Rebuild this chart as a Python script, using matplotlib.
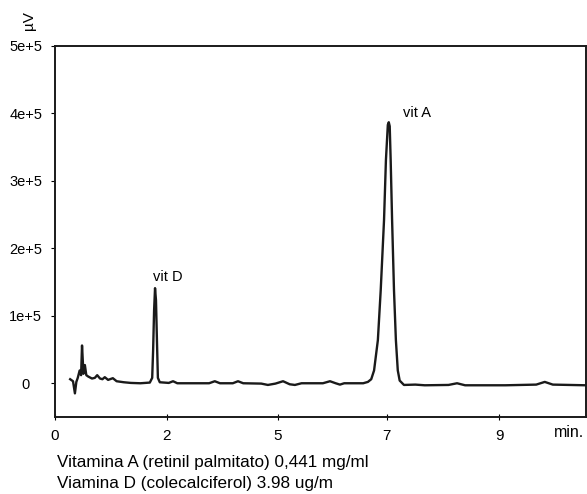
import matplotlib
matplotlib.use("Agg")
import matplotlib.pyplot as plt

plt.rcParams['font.family'] = ['Liberation Sans', 'DejaVu Sans']

# ---- trace (time in min, signal in uV) ----
t_min = [0.32, 0.38, 0.42, 0.45, 0.48, 0.52, 0.55, 0.57, 0.60, 0.63, 0.66, 0.70,
         0.78, 0.84, 0.89, 0.95, 1.00, 1.05, 1.12, 1.22, 1.30, 1.45, 1.60, 1.80,
         2.00, 2.05, 2.07, 2.09, 2.11, 2.13, 2.15, 2.17, 2.21, 2.40, 2.49, 2.58,
         3.25, 3.37, 3.48, 3.75, 3.86, 3.97, 4.35, 4.49, 4.65, 4.81, 4.95, 5.06,
         5.20, 5.65, 5.80, 5.92, 6.01, 6.10, 6.50, 6.60, 6.67, 6.73, 6.81, 6.87,
         6.94, 6.98, 7.02, 7.04, 7.06, 7.08, 7.11, 7.15, 7.19, 7.23, 7.27, 7.36,
         7.60, 7.80, 8.30, 8.48, 8.65, 9.50, 10.15, 10.33, 10.50, 11.20]
signal = [6000, 3000, -15000, 2000, 8000, 19000, 12000, 56000, 14000, 27000, 12000, 10000,
          7000, 8000, 12000, 7000, 6000, 9000, 5000, 7500, 3000, 1500, 500, 0,
          1000, 8000, 50000, 108000, 141000, 123000, 64000, 8000, 1500, 500, 3000, 0,
          0, 3000, 0, 0, 3000, 0, -500, -2500, -500, 3000, -1500, -2500,
          0, 0, 3000, 0, -2000, 0, 0, 2000, 6000, 19000, 64000, 138000,
          242000, 331000, 383000, 387000, 381000, 331000, 242000, 138000, 64000, 19000, 4000, -2500,
          -2000, -3000, -2500, 0, -3000, -3000, -2000, 2000, -2000, -3000]

y_ticks = [0, 100000, 200000, 300000, 400000, 500000]
y_labels = ['0', '1e+5', '2e+5', '3e+5', '4e+5', '5e+5']
x_ticks = [0, 2.36, 4.70, 7.0, 9.37]
x_labels = ['0', '2', '5', '7', '9']

peak_names = ['vit D', 'vit A']
peak_label_pos = [(2.07, 157000), (7.34, 400000)]

fig = plt.figure(figsize=(5.87, 4.94), dpi=100)
ax = fig.add_axes([0.0937, 0.1559, 0.9046, 0.751])

ax.plot(t_min, signal, color='#1a1a1a', lw=1.7)

ax.set_xlim(0, 11.2)
ax.set_ylim(-50000, 500000)
ax.set_yticks(y_ticks)
ax.set_yticklabels(y_labels)
ax.set_xticks(x_ticks)
ax.set_xticklabels(x_labels)
for lab in ax.get_yticklabels():
    lab.set_ha('center')
ax.tick_params(axis='y', direction='out', length=3, pad=18, labelsize=10.5)
ax.tick_params(axis='x', direction='inout', length=5, pad=6, labelsize=11)
for sp in ax.spines.values():
    sp.set_linewidth(1.4)
    sp.set_color('#1a1a1a')

for name, (x, y) in zip(peak_names, peak_label_pos):
    ax.text(x, y, name, fontsize=10.5, ha='left', va='center')

fig.text(569 / 587, 1 - 432 / 494, 'min.', fontsize=11.5, ha='center', va='center')
fig.text(29 / 587, 1 - 21 / 494, 'µV', fontsize=11, rotation=90, ha='center', va='center')
fig.text(57 / 587, 1 - 462 / 494, 'Vitamina A (retinil palmitato) 0,441 mg/ml',
         fontsize=12.3, ha='left', va='center')
fig.text(57 / 587, 1 - 483 / 494, 'Viamina D (colecalciferol) 3.98 ug/m',
         fontsize=12.3, ha='left', va='center')

fig.savefig('out.png', dpi=100)
